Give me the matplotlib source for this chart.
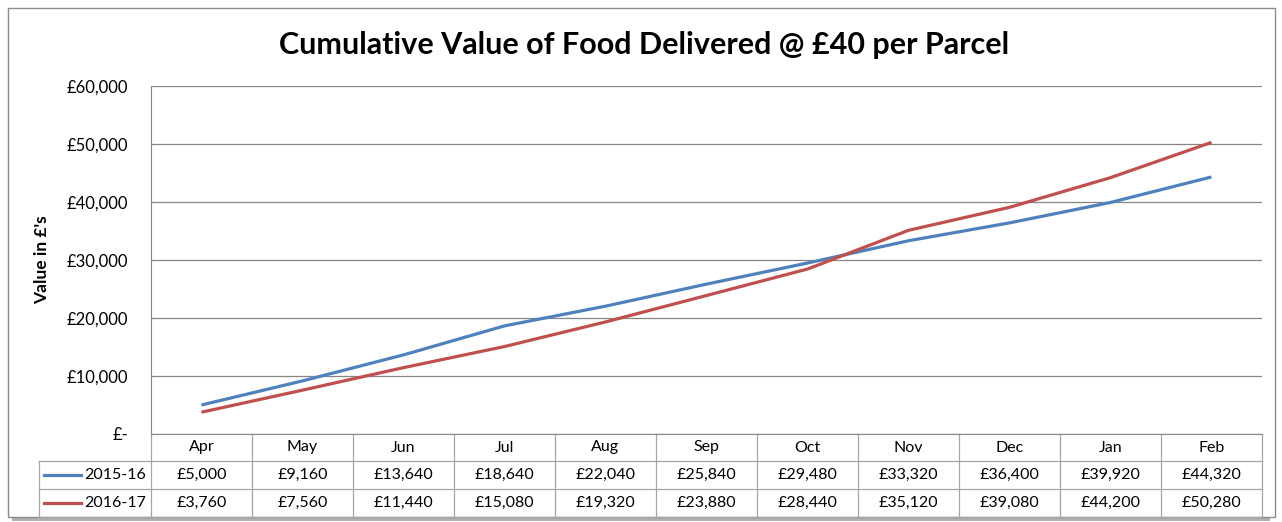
import matplotlib
matplotlib.use("Agg")
import matplotlib.pyplot as plt
from matplotlib.patches import Rectangle
from matplotlib.lines import Line2D
import matplotlib.transforms as mtransforms

months = ["Apr", "May", "Jun", "Jul", "Aug", "Sep", "Oct", "Nov", "Dec", "Jan", "Feb"]
series_names = ["2015-16", "2016-17"]
values_2015 = [5000, 9160, 13640, 18640, 22040, 25840, 29480, 33320, 36400, 39920, 44320]
values_2016 = [3760, 7560, 11440, 15080, 19320, 23880, 28440, 35120, 39080, 44200, 50280]
colors = ["#4F81BD", "#C0504D"]
yticks = [0, 10000, 20000, 30000, 40000, 50000, 60000]

plt.rcParams['font.family'] = ['Lato', 'DejaVu Sans']

W, H = 1282, 522
fig = plt.figure(figsize=(W / 100, H / 100), dpi=100)

def fx(px):
    return px / W

def fy(py):
    return 1 - py / H

# outer frame with shadow
fig.patches.append(Rectangle((fx(12), fy(521)), fx(1270) - fx(12), fy(12) - fy(521),
                             transform=fig.transFigure, facecolor="#b0b0b0", edgecolor="none", zorder=0))
fig.patches.append(Rectangle((fx(8), fy(517)), fx(1275) - fx(8), fy(8) - fy(517),
                             transform=fig.transFigure, facecolor="white", edgecolor="#8c8c8c",
                             linewidth=1.0, zorder=1))

left, right, top, bottom = 151, 1262, 86, 434
ax = fig.add_axes([fx(left), fy(bottom), fx(right) - fx(left), fy(top) - fy(bottom)])
ax.set_zorder(2)
ax.patch.set_alpha(0)

x = list(range(len(months)))
ax.plot(x, values_2015, color=colors[0], linewidth=2.3, solid_capstyle="butt", zorder=3)
ax.plot(x, values_2016, color=colors[1], linewidth=2.3, solid_capstyle="butt", zorder=3)

ax.set_xlim(-0.5, len(months) - 0.5)
ax.set_ylim(0, 60000)
ax.set_yticks(yticks)
ax.set_yticklabels(["£-" if v == 0 else f"£{v:,}" for v in yticks], fontsize=12)
ax.tick_params(axis="y", length=0, pad=16.5)
ax.set_xticks([])
ax.grid(axis="y", color="#868686", linewidth=0.9)
for s in ["top", "right"]:
    ax.spines[s].set_visible(False)
ax.spines["left"].set_color("#868686")
ax.spines["bottom"].set_color("#868686")
ax.set_axisbelow(True)

ax.set_ylabel("Value in £'s", fontsize=12.5, fontweight="bold", labelpad=12)

fig.text(fx(644), fy(45), "Cumulative Value of Food Delivered @ £40 per Parcel",
         ha="center", va="center", fontsize=22, fontweight="bold")

# data table
trans = mtransforms.blended_transform_factory(ax.transData, fig.transFigure)
tc = "#a6a6a6"
n = len(months)
for yy in (461, 489, 517):
    fig.add_artist(Line2D([-0.5, n - 0.5], [fy(yy), fy(yy)], transform=trans, color=tc, lw=0.9))
    fig.add_artist(Line2D([fx(39), fx(left)], [fy(yy), fy(yy)], transform=fig.transFigure, color=tc, lw=0.9))
fig.add_artist(Line2D([fx(39), fx(39)], [fy(461), fy(517)], transform=fig.transFigure, color=tc, lw=0.9))
for i in range(n + 1):
    xv = i - 0.5
    fig.add_artist(Line2D([xv, xv], [fy(434), fy(517)], transform=trans, color=tc, lw=0.9))

fs = 11.5
for i, m in enumerate(months):
    fig.text(i, fy(447.5), m, transform=trans, ha="center", va="center", fontsize=fs)
    fig.text(i, fy(475), f"£{values_2015[i]:,}", transform=trans, ha="center", va="center", fontsize=fs)
    fig.text(i, fy(503), f"£{values_2016[i]:,}", transform=trans, ha="center", va="center", fontsize=fs)

for j, (name, c) in enumerate(zip(series_names, colors)):
    yc = fy(475 if j == 0 else 503)
    fig.add_artist(Line2D([fx(44), fx(81)], [yc, yc], transform=fig.transFigure, color=c, lw=2.3))
    fig.text(fx(84), yc, name, ha="left", va="center", fontsize=fs)

fig.savefig("out.png", dpi=100)
